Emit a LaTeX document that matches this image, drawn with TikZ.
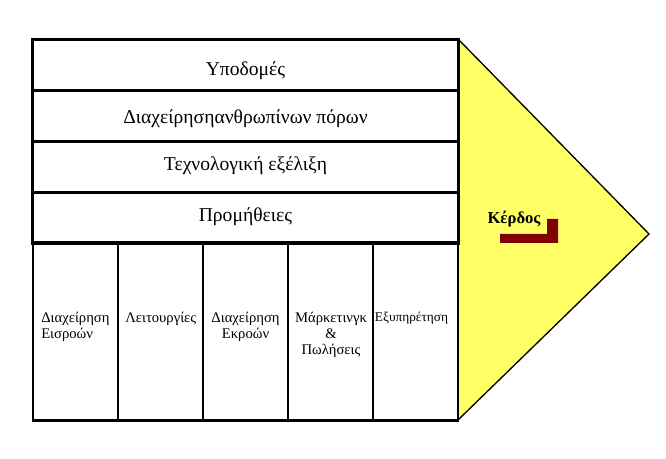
\documentclass[tikz,border=0pt]{standalone}
\usepackage{fontspec}
\setmainfont{Liberation Serif}
\usepackage{xcolor}
\definecolor{profityellow}{RGB}{255,255,102}
\definecolor{profitred}{RGB}{128,0,0}

\begin{document}
\begin{tikzpicture}[x=0.75pt, y=-0.75pt,
        box/.style={rectangle, draw, line width=2.2pt, inner sep=0pt, outer sep=0pt},
        rowbox/.style={box, minimum width=319pt, minimum height=38.1pt},
        colbox/.style={box, minimum width=63.75pt, minimum height=133.5pt},
        rowtext/.style={anchor=base, inner sep=0pt, font=\fontsize{14.7}{17}\selectfont},
        coltext/.style={anchor=base, inner sep=0pt, font=\fontsize{11}{12}\selectfont}
    ]
        \useasboundingbox (0,0) rectangle (666,459);

        % Margin (profit)
        \coordinate (tip) at (649,234);
        \coordinate (margin-top) at (458,39);
        \coordinate (margin-bot) at (458,420);
        \filldraw[fill=profityellow, draw=black, line width=1pt, line join=miter]
            (margin-top) -- (tip) -- (margin-bot) -- cycle;
        \node[anchor=base, inner sep=0pt, font=\fontsize{12.5}{14}\selectfont\bfseries] (profit) at (514,224) {Κέρδος};
        \fill[profitred] (500,234) -- (547,234) -- (547,219) -- (558,219) -- (558,243) -- (500,243) -- cycle;

        % Support activities
        \node[rowbox] (infra) at (245.5,65) {};
        \node[rowbox] (hrm) at (245.5,116) {};
        \node[rowbox] (tech) at (245.5,167) {};
        \node[rowbox] (procure) at (245.5,218) {};
        \node[rowtext] (infra-txt) at (245.5,76) {Υποδομές};
        \node[rowtext] (hrm-txt) at (245.5,124) {Διαχείρησηανθρωπίνων πόρων};
        \node[rowtext] (tech-txt) at (245.5,171) {Τεχνολογική εξέλιξη};
        \node[rowtext] (procure-txt) at (245.5,222) {Προμήθειες};

        % Primary activities (base = last line)
        \node[colbox] (inbound) at (75.5,331.5) {};
        \node[colbox] (ops) at (160.5,331.5) {};
        \node[colbox] (outbound) at (245.5,331.5) {};
        \node[colbox] (sales) at (330.5,331.5) {};
        \node[colbox] (service) at (415.5,331.5) {};
        \node[coltext, anchor=base west, align=left] (inbound-txt) at (41,338) {Διαχείρηση\\Εισροών};
        \node[coltext, anchor=base west] (ops-txt) at (125,322) {Λειτουργίες};
        \node[coltext, align=center] (outbound-txt) at (245.5,338) {Διαχείρηση\\Εκροών};
        \node[coltext, align=center] (sales-txt) at (331,354) {Μάρκετινγκ\\\&\\Πωλήσεις};
        \node[coltext, font=\fontsize{10}{12}\selectfont] (service-txt) at (411.5,321) {Εξυπηρέτηση};
    \end{tikzpicture}
\end{document}
